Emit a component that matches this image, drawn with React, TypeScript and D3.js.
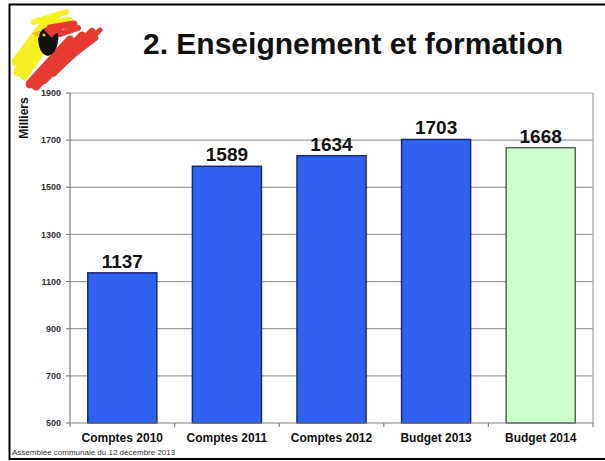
import React from "react";
import * as d3 from "d3";

const categories = ["Comptes 2010", "Comptes 2011", "Comptes 2012", "Budget 2013", "Budget 2014"];
const values = [1137, 1589, 1634, 1703, 1668];
const highlight = [false, false, false, false, true];
const yTicks = [500, 700, 900, 1100, 1300, 1500, 1700, 1900];

const W = 605;
const H = 461;
const FONT = "'Liberation Sans', Arial, Helvetica, sans-serif";

export default function App() {
  const x0 = 70, x1 = 593, yTop = 93, yBot = 423;
  const x = d3.scaleBand<string>().domain(categories).range([x0, x1]).paddingInner(0.34).paddingOuter(0.17);
  const xEdge = d3.scaleLinear().domain([0, categories.length]).range([x0, x1]);
  const y = d3.scaleLinear().domain([500, 1900]).range([yBot, yTop]);

  return (
    <svg width={W} height={H} style={{ position: "absolute", left: 0, top: 0, background: "#fff" }}>
      <rect x={0} y={0} width={W} height={H} fill="#fff" />
      {/* slide frame */}
      <rect x={9.5} y={4.5} width={W + 10} height={454.5} fill="none" stroke="#000" strokeWidth={2} />

      {/* logo */}
      <g strokeLinecap="round" fill="none">
        <path d="M16,62 L46,22" stroke="#F5F020" strokeWidth={9} />
        <path d="M18,72 L56,20" stroke="#F5F020" strokeWidth={9} />
        <path d="M24,76 L60,24" stroke="#F5F020" strokeWidth={8} />
        <path d="M34,22 L66,12" stroke="#F5F020" strokeWidth={6} />
        <path d="M44,24 L70,20" stroke="#F5F020" strokeWidth={6} />
        <path d="M30,84 L70,40" stroke="#E83A30" strokeWidth={9} />
        <path d="M36,86 L82,36" stroke="#E83A30" strokeWidth={9} />
        <path d="M44,80 L92,32" stroke="#E83A30" strokeWidth={8} />
        <path d="M54,74 L100,30" stroke="#E83A30" strokeWidth={5} />
        <path d="M62,64 L96,38" stroke="#E83A30" strokeWidth={5} />
        <path d="M50,28 L74,24" stroke="#E83A30" strokeWidth={7} />
        <path d="M60,34 L78,28" stroke="#E83A30" strokeWidth={6} />
      </g>
      <path d="M38,36 Q42,26 52,27 Q60,30 58,42 Q56,54 48,56 Q38,54 38,36 Z" fill="#111" />
      <path d="M44,30 Q50,22 60,25 L64,33 Q56,31 52,38 Z" fill="#E83A30" />
      <path d="M31,33 L40,31 L39,38 Z" fill="#E8C020" />
      <circle cx={44} cy={35} r={1.6} fill="#E8C020" />

      {/* title */}
      <text x={143} y={54} fontFamily={FONT} fontWeight="bold" fontSize={30} fill="#111">2. Enseignement et formation</text>

      {/* gridlines */}
      {yTicks.filter(t => t > 500).map(t => (
        <line key={t} x1={x0} x2={x1} y1={y(t)} y2={y(t)} stroke="#A0A0A0" strokeWidth={1.2} />
      ))}
      <line x1={x1} x2={x1} y1={yTop} y2={yBot} stroke="#A0A0A0" strokeWidth={1.2} />

      {/* bars */}
      {categories.map((c, i) => (
        <rect key={c} x={x(c)} y={y(values[i])} width={x.bandwidth()} height={yBot - y(values[i])}
          fill={highlight[i] ? "#CCFFCC" : "#3062F2"} stroke={highlight[i] ? "#4E6A4E" : "#1A2A70"} strokeWidth={1.5} />
      ))}

      {/* value labels */}
      {categories.map((c, i) => (
        <text key={c} x={(x(c) as number) + x.bandwidth() / 2} y={y(values[i]) - 5} textAnchor="middle"
          fontFamily={FONT} fontWeight="bold" fontSize={19} fill="#111">{values[i]}</text>
      ))}

      {/* axes */}
      <line x1={x0} x2={x0} y1={yTop} y2={yBot} stroke="#808080" strokeWidth={1.2} />
      <line x1={x0} x2={x1} y1={yBot} y2={yBot} stroke="#808080" strokeWidth={1.2} />
      {yTicks.map(t => (
        <g key={t}>
          <line x1={x0 - 4} x2={x0} y1={y(t)} y2={y(t)} stroke="#808080" strokeWidth={1.2} />
          <text x={x0 - 9} y={y(t) + 3.2} textAnchor="end" fontFamily={FONT} fontWeight="bold" fontSize={9} fill="#333">{t}</text>
        </g>
      ))}
      {d3.range(categories.length + 1).map(i => (
        <line key={i} x1={xEdge(i)} x2={xEdge(i)} y1={yBot} y2={yBot + 4} stroke="#808080" strokeWidth={1.2} />
      ))}
      {categories.map(c => (
        <text key={c} x={(x(c) as number) + x.bandwidth() / 2} y={442} textAnchor="middle"
          fontFamily={FONT} fontWeight="bold" fontSize={12} fill="#111">{c}</text>
      ))}

      <text transform="translate(28,118) rotate(-90)" textAnchor="middle" fontFamily={FONT} fontWeight="bold" fontSize={12} fill="#111">Milliers</text>

      <text x={12} y={455} fontFamily={FONT} fontSize={8} fill="#333">Assemblée communale du 12 décembre 2013</text>
    </svg>
  );
}
